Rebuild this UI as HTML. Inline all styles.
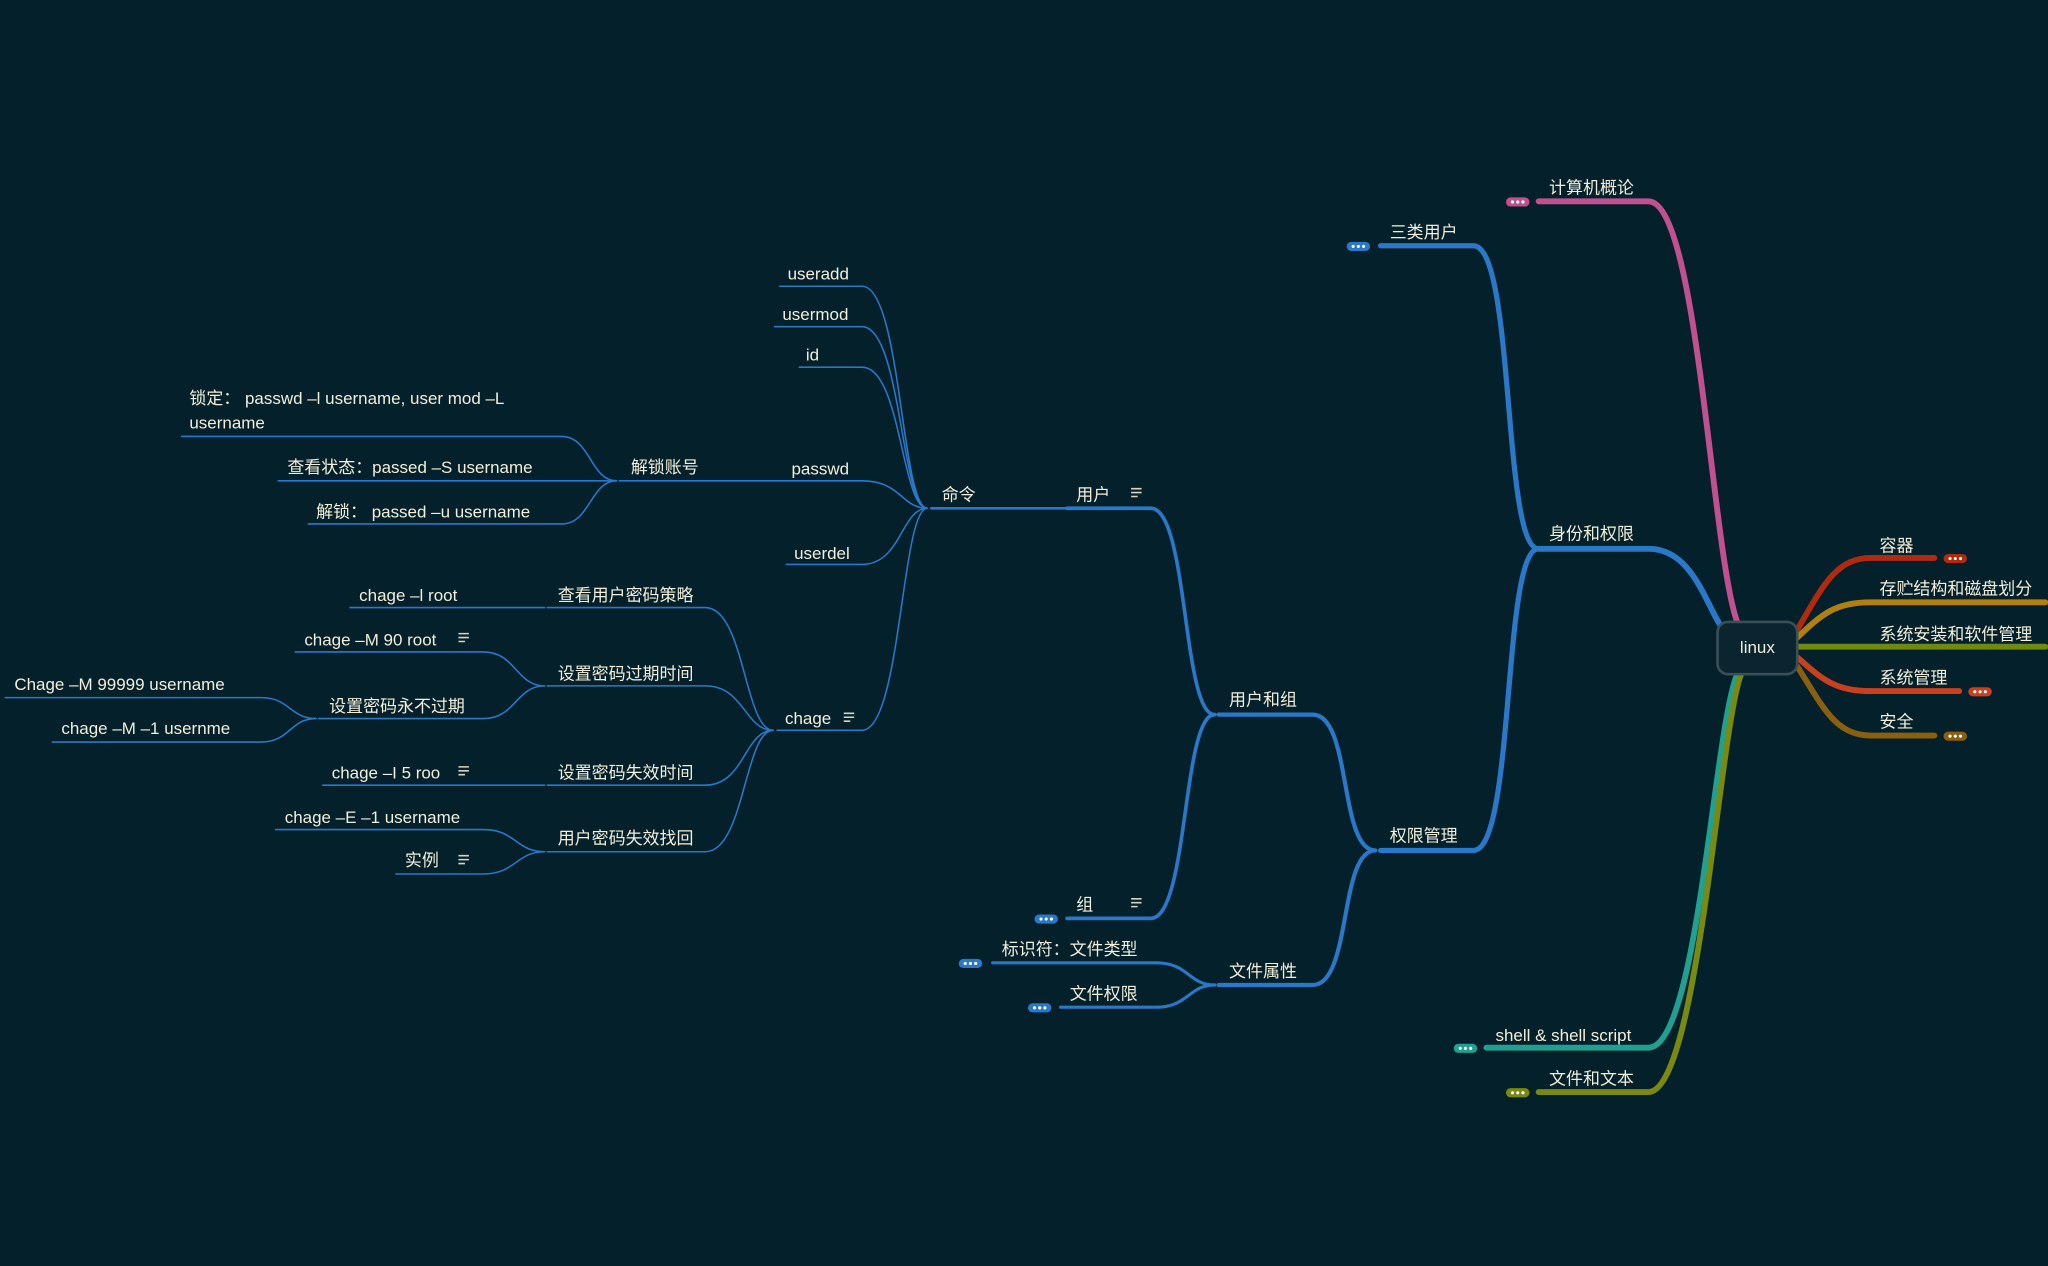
<!DOCTYPE html>
<html><head><meta charset="utf-8"><style>
html,body{margin:0;padding:0;background:#04202a;}
svg{display:block}
text{font-family:"Liberation Sans","Noto Sans CJK SC",sans-serif;fill:#f2efdc;font-size:13px}
</style></head><body>
<svg width="2048" height="1266" viewBox="0 0 1568 969" xmlns="http://www.w3.org/2000/svg">
<rect width="1568" height="969" fill="#04202a"/>
<g fill="none" stroke-linecap="round">
<!-- right side -->
<path d="M1376 482 C1395 450 1405 427 1432 427 L1481 427" stroke="#b02a10" stroke-width="4.5"/>
<path d="M1376 488 C1395 470 1405 461 1432 461 L1566 461" stroke="#b08010" stroke-width="4.5"/>
<path d="M1376 495 L1566 495" stroke="#6f8a10" stroke-width="4.5"/>
<path d="M1376 503 C1395 520 1405 529 1432 529 L1500 529" stroke="#c84020" stroke-width="4.5"/>
<path d="M1376 510 C1395 540 1405 563 1432 563 L1481 563" stroke="#8a6010" stroke-width="4.5"/>
<!-- left main -->
<path d="M1178 154 L1262 154 C1300 154 1310 420 1330 476" stroke="#c05090" stroke-width="4.5"/>
<path d="M1178 420 L1262 420 C1295 420 1305 460 1318 480" stroke="#2a78c8" stroke-width="4.5"/>
<path d="M1138 802 L1262 802 C1300 802 1312 560 1330 516" stroke="#20a090" stroke-width="4.5"/>
<path d="M1178 836 L1262 836 C1300 836 1316 560 1333 516" stroke="#7a8a10" stroke-width="4.5"/>
</g>
<g fill="none" stroke="#2a78c8" stroke-linecap="round">
<path d="M1057 188 L1128 188 C1160 188 1150 420 1178 420" stroke-width="4"/>
<path d="M1057 651 L1128 651 C1160 651 1150 420 1178 420" stroke-width="4"/>
<path d="M933 547 L1005 547 C1035 547 1025 651 1053 651" stroke-width="3.2"/>
<path d="M933 754 L1005 754 C1035 754 1025 651 1053 651" stroke-width="3.2"/>
<path d="M817 389 L881 389 C910 389 905 547 930 547" stroke-width="2.8"/>
<path d="M817 703 L881 703 C910 703 905 547 930 547" stroke-width="2.8"/>
<path d="M760 737 L885 737 C910 737 910 754 930 754" stroke-width="2.4"/>
<path d="M812 771 L885 771 C910 771 910 754 930 754" stroke-width="2.4"/>
<path d="M713 389 L817 389" stroke-width="2"/>
<g stroke-width="1.2">
<path d="M597 219 L660 219 C690 219 690 389 710 389"/>
<path d="M593 250 L660 250 C690 250 690 389 710 389"/>
<path d="M612 281 L660 281 C690 281 690 389 710 389"/>
<path d="M474 368 L660 368 C690 368 690 389 710 389"/>
<path d="M602 432 L660 432 C690 432 690 389 710 389"/>
<path d="M595 559 L660 559 C690 559 690 389 710 389"/>
<path d="M139 334 L430 334 C452 334 452 368 472 368"/>
<path d="M213 368 L472 368"/>
<path d="M236 401 L430 401 C452 401 452 368 472 368"/>
<path d="M419 465 L540 465 C570 465 570 559 592 559"/>
<path d="M419 525 L540 525 C570 525 570 559 592 559"/>
<path d="M419 601 L540 601 C570 601 570 559 592 559"/>
<path d="M419 652 L540 652 C570 652 570 559 592 559"/>
<path d="M268 465 L417 465"/>
<path d="M226 499 L370 499 C395 499 395 525 417 525"/>
<path d="M244 550 L370 550 C395 550 395 525 417 525"/>
<path d="M4 534 L200 534 C222 534 222 550 242 550"/>
<path d="M40 568 L200 568 C222 568 222 550 242 550"/>
<path d="M247 601 L417 601"/>
<path d="M211 635 L370 635 C395 635 395 652 417 652"/>
<path d="M303 669 L370 669 C395 669 395 652 417 652"/>
</g>
</g>
<!-- center -->
<rect x="1315" y="476" width="61" height="40" rx="8" fill="#0b2530" stroke="#3a4f58" stroke-width="2"/>
<text x="1345.5" y="500" text-anchor="middle">linux</text>
<!-- badges -->
<g>
<rect x="1488" y="424" width="18" height="7" rx="3.5" fill="#b02a10"/>
<rect x="1507" y="526" width="18" height="7" rx="3.5" fill="#c84020"/>
<rect x="1488" y="560" width="18" height="7" rx="3.5" fill="#8a6010"/>
<rect x="1153" y="151" width="18" height="7" rx="3.5" fill="#c05090"/>
<rect x="1031" y="185" width="18" height="7" rx="3.5" fill="#2a78c8"/>
<rect x="1113" y="799" width="18" height="7" rx="3.5" fill="#20a090"/>
<rect x="1153" y="833" width="18" height="7" rx="3.5" fill="#7a8a10"/>
<rect x="792" y="700" width="18" height="7" rx="3.5" fill="#2a78c8"/>
<rect x="734" y="734" width="18" height="7" rx="3.5" fill="#2a78c8"/>
<rect x="787" y="768" width="18" height="7" rx="3.5" fill="#2a78c8"/>
</g>
<g fill="#fff">
<circle cx="1493" cy="427.5" r="1.2"/><circle cx="1497" cy="427.5" r="1.2"/><circle cx="1501" cy="427.5" r="1.2"/>
<circle cx="1512" cy="529.5" r="1.2"/><circle cx="1516" cy="529.5" r="1.2"/><circle cx="1520" cy="529.5" r="1.2"/>
<circle cx="1493" cy="563.5" r="1.2"/><circle cx="1497" cy="563.5" r="1.2"/><circle cx="1501" cy="563.5" r="1.2"/>
<circle cx="1158" cy="154.5" r="1.2"/><circle cx="1162" cy="154.5" r="1.2"/><circle cx="1166" cy="154.5" r="1.2"/>
<circle cx="1036" cy="188.5" r="1.2"/><circle cx="1040" cy="188.5" r="1.2"/><circle cx="1044" cy="188.5" r="1.2"/>
<circle cx="1118" cy="802.5" r="1.2"/><circle cx="1122" cy="802.5" r="1.2"/><circle cx="1126" cy="802.5" r="1.2"/>
<circle cx="1158" cy="836.5" r="1.2"/><circle cx="1162" cy="836.5" r="1.2"/><circle cx="1166" cy="836.5" r="1.2"/>
<circle cx="797" cy="703.5" r="1.2"/><circle cx="801" cy="703.5" r="1.2"/><circle cx="805" cy="703.5" r="1.2"/>
<circle cx="739" cy="737.5" r="1.2"/><circle cx="743" cy="737.5" r="1.2"/><circle cx="747" cy="737.5" r="1.2"/>
<circle cx="792" cy="771.5" r="1.2"/><circle cx="796" cy="771.5" r="1.2"/><circle cx="800" cy="771.5" r="1.2"/>
</g>
<!-- note icons -->
<g stroke="#d8d4c4" stroke-width="1.2">
<path d="M866 374h8M866 377h8M866 380h5"/>
<path d="M866 688h8M866 691h8M866 694h5"/>
<path d="M646 546h8M646 549h8M646 552h5"/>
<path d="M351 485h8M351 488h8M351 491h5"/>
<path d="M351 587h8M351 590h8M351 593h5"/>
<path d="M351 655h8M351 658h8M351 661h5"/>
</g>
<!-- labels -->
<text x="1439" y="422">容器</text>
<text x="1439" y="455">存贮结构和磁盘划分</text>
<text x="1439" y="490">系统安装和软件管理</text>
<text x="1439" y="523">系统管理</text>
<text x="1439" y="557">安全</text>
<text x="1186" y="148">计算机概论</text>
<text x="1186" y="413">身份和权限</text>
<text x="1145" y="797">shell &amp; shell script</text>
<text x="1186" y="830">文件和文本</text>
<text x="1064" y="182">三类用户</text>
<text x="1064" y="644">权限管理</text>
<text x="941" y="540">用户和组</text>
<text x="941" y="748">文件属性</text>
<text x="824" y="383">用户</text>
<text x="824" y="697">组</text>
<text x="767" y="731">标识符：文件类型</text>
<text x="819" y="765">文件权限</text>
<text x="721" y="383">命令</text>
<text x="603" y="214">useradd</text>
<text x="599" y="245">usermod</text>
<text x="617" y="276">id</text>
<text x="606" y="363">passwd</text>
<text x="608" y="428">userdel</text>
<text x="601" y="554">chage</text>
<text x="483" y="362">解锁账号</text>
<text x="145" y="309">锁定： passwd –l username,  user mod –L</text>
<text x="145" y="328">username</text>
<text x="220" y="362">查看状态：passed –S username</text>
<text x="242" y="396">解锁： passed –u username</text>
<text x="427" y="460">查看用户密码策略</text>
<text x="427" y="520">设置密码过期时间</text>
<text x="427" y="596">设置密码失效时间</text>
<text x="427" y="646">用户密码失效找回</text>
<text x="275" y="460">chage –l root</text>
<text x="233" y="494">chage –M 90 root</text>
<text x="252" y="545">设置密码永不过期</text>
<text x="11" y="528">Chage –M 99999 username</text>
<text x="47" y="562">chage –M –1 usernme</text>
<text x="254" y="596">chage –I 5 roo</text>
<text x="218" y="630">chage –E –1 username</text>
<text x="310" y="663">实例</text>
</svg>
</body></html>
